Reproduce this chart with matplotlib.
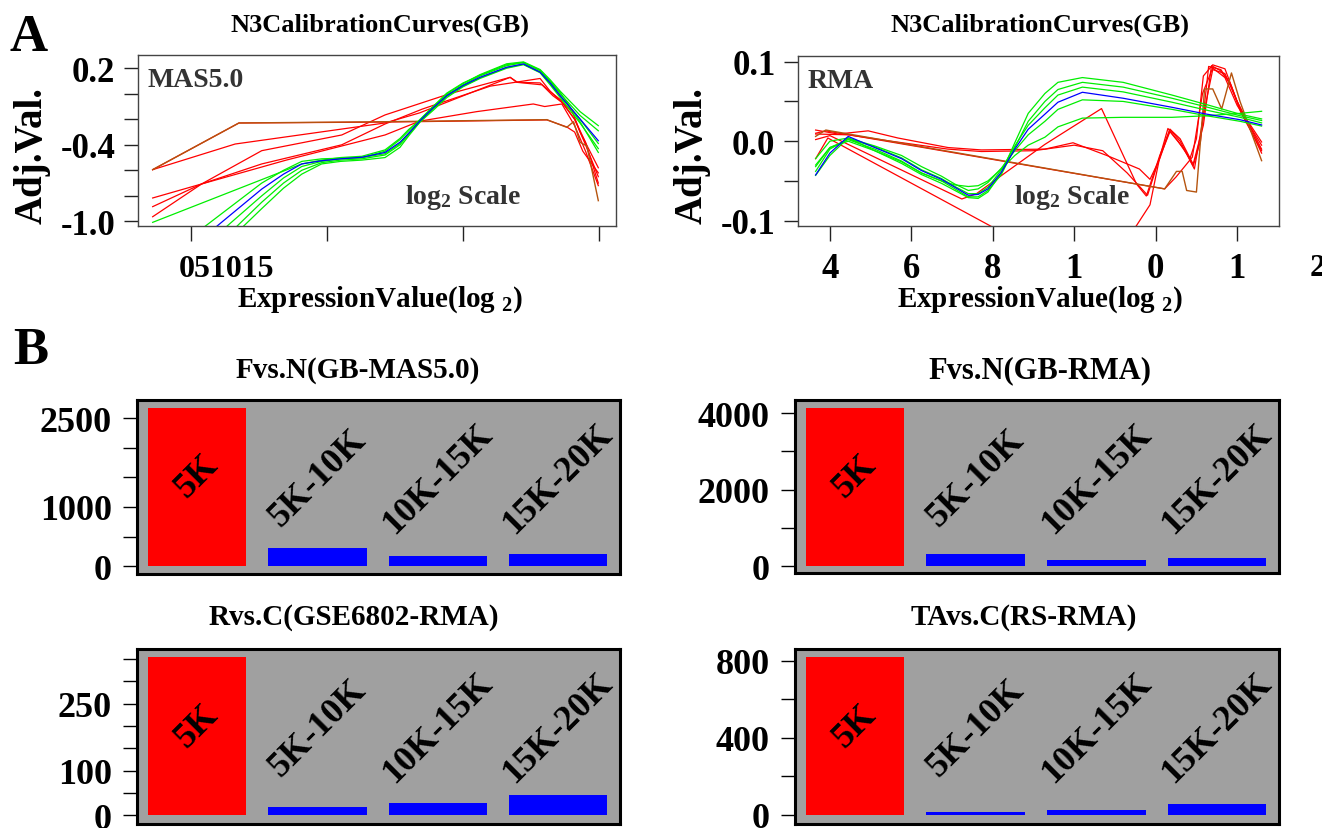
"""Calibration curves (A) and bin counts (B) figure."""
import matplotlib

matplotlib.use("Agg")
import matplotlib.pyplot as plt

W, H = 1322, 829

plt.rcParams["font.family"] = ["Liberation Serif", "DejaVu Serif"]
plt.rcParams["font.weight"] = "bold"
plt.rcParams["mathtext.fontset"] = "custom"
plt.rcParams["mathtext.rm"] = "Liberation Serif:bold"
plt.rcParams["mathtext.bf"] = "Liberation Serif:bold"
plt.rcParams["mathtext.it"] = "Liberation Serif:bold"

# ---- panel A, MAS5.0 curves -------------------------------------------
mas_grid = [2.6, 3.4, 4.07, 4.8, 5.5, 6.28, 7.13, 7.68, 8.0, 8.42, 8.9, 9.4, 10.0, 10.62, 11.6, 12.22, 12.83, 13.2, 13.57, 14.3, 14.97]
mas_blue_start = (0.94, -1.04)
mas_blue_y = [-0.747, -0.63, -0.55, -0.525, -0.51, -0.498, -0.46, -0.38, -0.31, -0.211, -0.11, -0.015, 0.065, 0.129, 0.208, 0.234, 0.169, 0.085, -0.015, -0.198, -0.368]

mas_green_start = [(0.51, -1.04), (1.31, -1.04), (1.68, -1.04), (1.92, -1.04)]
mas_green_y = [
    [-0.70, -0.60, -0.53, -0.51, -0.505, -0.50, -0.45, -0.36, -0.29, -0.20, -0.10, 0.0, 0.08, 0.15, 0.235, 0.25, 0.19, 0.11, 0.02, -0.14, -0.25],
    [-0.80, -0.66, -0.57, -0.53, -0.51, -0.50, -0.47, -0.39, -0.31, -0.215, -0.11, -0.01, 0.07, 0.14, 0.22, 0.245, 0.18, 0.095, 0.0, -0.17, -0.29],
    [-0.85, -0.70, -0.60, -0.54, -0.52, -0.51, -0.48, -0.40, -0.32, -0.22, -0.12, -0.02, 0.06, 0.125, 0.205, 0.232, 0.17, 0.08, -0.02, -0.20, -0.39],
    [-0.90, -0.74, -0.63, -0.55, -0.53, -0.52, -0.50, -0.42, -0.33, -0.22, -0.13, -0.03, 0.055, 0.12, 0.20, 0.228, 0.165, 0.07, -0.03, -0.23, -0.43],
]
# one green curve runs straight in from the left edge
mas_green_line_x = [-1.41, 4.07, 4.8, 5.5, 6.28, 7.13, 7.68, 8.0, 8.42, 8.9, 9.4, 10.0, 10.62, 11.6, 12.22, 12.83, 13.2, 13.57, 14.3, 14.97]
mas_green_line_y = [-1.008, -0.55, -0.52, -0.50, -0.49, -0.44, -0.35, -0.28, -0.205, -0.10, 0.005, 0.085, 0.145, 0.228, 0.245, 0.185, 0.10, 0.01, -0.22, -0.46]

mas_red_x = [
    [-1.41, 1.76, 7.13, 13.08, 13.81, 14.1, 14.4, 14.97],
    [-1.41, 1.62, 7.13, 8.4, 11.73, 11.97, 12.9, 13.3, 13.63, 14.0, 14.3, 14.97],
    [-1.41, 0.39, 2.6, 5.54, 7.13, 9.5, 11.73, 12.0, 12.83, 13.3, 13.6, 14.1, 14.5, 14.97],
    [-1.41, 0.39, 2.6, 5.54, 7.13, 8.5, 11.0, 12.83, 13.2, 13.63, 14.1, 14.5, 14.97],
    [-1.41, 0.39, 3.5, 7.13, 8.4, 10.5, 12.58, 13.0, 13.63, 14.1, 14.5, 14.97],
]
mas_red_y = [
    [-0.595, -0.229, -0.222, -0.205, -0.26, -0.30, -0.45, -0.62],
    [-0.595, -0.394, -0.229, -0.15, 0.129, 0.09, 0.07, -0.015, -0.067, -0.13, -0.30, -0.58],
    [-0.817, -0.707, -0.446, -0.323, -0.166, 0.0, 0.129, 0.09, 0.085, 0.0, -0.05, -0.2, -0.4, -0.65],
    [-0.885, -0.707, -0.55, -0.40, -0.237, -0.12, 0.06, 0.12, 0.02, -0.067, -0.2, -0.38, -0.70],
    [-0.964, -0.707, -0.52, -0.323, -0.215, -0.14, -0.08, -0.10, -0.08, -0.25, -0.45, -0.72],
]
mas_brown_x = [-1.41, 1.76, 7.13, 13.08, 13.81, 14.06, 14.3, 14.55, 14.97]
mas_brown_y = [-0.595, -0.229, -0.219, -0.203, -0.263, -0.219, -0.38, -0.41, -0.838]

# ---- panel A, RMA curves ----------------------------------------------
rma_x = [3.65, 4.0, 4.45, 5.1, 5.76, 6.25, 6.74, 7.07, 7.4, 7.64, 7.88, 8.21, 8.54, 8.87, 9.28, 9.6, 10.2, 11.2, 12.4, 13.25, 14.07, 14.6]
rma_blue_y = [-0.0425, -0.015, 0.006, -0.008, -0.022, -0.037, -0.048, -0.058, -0.068, -0.067, -0.060, -0.039, -0.010, 0.015, 0.034, 0.049, 0.0615, 0.054, 0.0426, 0.034, 0.027, 0.0204]
rma_green_y = [
    [-0.022, 0.0, 0.004, -0.012, -0.028, -0.042, -0.053, -0.062, -0.071, -0.072, -0.064, -0.040, -0.002, 0.035, 0.060, 0.074, 0.080, 0.074, 0.058, 0.046, 0.034, 0.028],
    [-0.032, -0.008, 0.002, -0.010, -0.025, -0.040, -0.050, -0.060, -0.070, -0.070, -0.062, -0.042, -0.008, 0.025, 0.050, 0.065, 0.074, 0.068, 0.054, 0.043, 0.032, 0.026],
    [-0.038, -0.010, 0.003, -0.007, -0.021, -0.036, -0.047, -0.057, -0.066, -0.066, -0.058, -0.036, -0.006, 0.020, 0.042, 0.058, 0.068, 0.062, 0.049, 0.039, 0.030, 0.023],
    [-0.043, -0.018, 0.004, -0.006, -0.018, -0.032, -0.044, -0.054, -0.062, -0.060, -0.052, -0.034, -0.012, 0.008, 0.025, 0.040, 0.052, 0.050, 0.040, 0.032, 0.025, 0.019],
    [-0.030, -0.008, 0.0, -0.012, -0.026, -0.040, -0.050, -0.055, -0.057, -0.056, -0.050, -0.035, -0.018, -0.005, 0.005, 0.018, 0.029, 0.030, 0.030, 0.032, 0.035, 0.0376],
]

rma_red_x = [
    [3.65, 4.2, 4.94, 5.67, 6.9, 7.72, 9.28, 9.97, 10.8, 11.6, 11.86, 12.1, 12.35, 12.6, 12.92, 13.17, 13.37, 13.58, 13.82, 14.07, 14.6],
    [3.65, 4.45, 5.5, 6.9, 7.72, 9.0, 10.0, 10.7, 11.3, 11.8, 12.1, 12.35, 12.7, 12.95, 13.2, 13.4, 13.7, 14.0, 14.6],
    [3.65, 3.95, 8.1],
    [3.65, 4.0, 7.24, 7.6, 8.3, 9.28, 10.67, 11.53, 11.77, 12.1, 12.35, 12.6, 12.92, 13.1, 13.3, 13.6, 13.85, 14.1, 14.6],
    [11.4, 11.53, 11.86, 12.1, 12.3, 12.55, 12.84, 13.0, 13.17, 13.4, 13.7, 14.0, 14.6],
    [3.65, 3.9, 12.22, 12.5, 12.9, 13.15, 13.4, 13.7, 14.0, 14.6],
]
rma_red_y = [
    [0.014, 0.009, 0.013, 0.004, -0.008, -0.011, -0.010, -0.002, -0.018, -0.035, -0.048, -0.022, 0.015, 0.003, -0.029, 0.02, 0.095, 0.089, 0.074, 0.04, -0.001],
    [0.009, 0.008, 0.0, -0.010, -0.013, -0.012, -0.005, -0.012, -0.040, -0.068, -0.020, 0.012, -0.010, -0.035, 0.040, 0.090, 0.085, 0.050, -0.010],
    [-0.022, 0.004, -0.111],
    [0.002, 0.007, -0.0727, -0.066, -0.040, -0.004, 0.041, -0.054, -0.069, -0.018, 0.015, 0.0, -0.031, 0.0, 0.094, 0.090, 0.070, 0.035, -0.012],
    [-0.115, -0.106, -0.080, -0.020, 0.016, 0.0, -0.022, 0.003, 0.082, 0.096, 0.091, 0.050, -0.015],
    [0.010, 0.013, -0.060, -0.045, -0.020, 0.060, 0.092, 0.080, 0.045, -0.005],
]
rma_brown_x = [3.65, 3.9, 12.22, 12.51, 12.65, 12.76, 13.0, 13.2, 13.4, 13.62, 13.86, 14.07, 14.6]
rma_brown_y = [0.006, 0.014, -0.060, -0.038, -0.038, -0.062, -0.064, 0.0657, 0.0657, 0.0405, 0.0858, 0.050, -0.0245]

# ---- panel B, bin counts ----------------------------------------------
bins = ["5K", "5K-10K", "10K-15K", "15K-20K"]
gb_mas5 = [2667, 310, 165, 210]
gb_rma = [4125, 313, 157, 209]
gse6802_rma = [356, 18.7, 26.3, 45]
rs_rma = [821, 17, 27.7, 55.6]

BROWN = "#b5540e"


def px_axes(fig, x0, y0, x1, y1):
    return fig.add_axes([x0 / W, 1 - y1 / H, (x1 - x0) / W, (y1 - y0) / H])


def px_text(fig, x, y, s, **kw):
    kw.setdefault("ha", "center")
    kw.setdefault("va", "center")
    fig.text(x / W, 1 - y / H, s, **kw)


def curve_panel(ax, reds_x, reds_y, brown, greens_x, greens_y, blue):
    for x, y in zip(reds_x, reds_y):
        ax.plot(x, y, color="red", lw=0.9)
    ax.plot(brown[0], brown[1], color=BROWN, lw=1.0)
    for x, y in zip(greens_x, greens_y):
        ax.plot(x, y, color="#00ee00", lw=0.9)
    ax.plot(blue[0], blue[1], color="blue", lw=0.9)
    for s in ax.spines.values():
        s.set_color("#444444")
        s.set_linewidth(1.0)
    ax.tick_params(axis="both", which="both", direction="out", length=10, width=1.0,
                   color="#222222", labelsize=25, pad=6)
    ax.tick_params(axis="x", which="both", length=11)


def bar_panel(ax, values, ticks, labels, ylim):
    pos = [0.7, 1.9, 3.1, 4.3]
    colors = ["red", "blue", "blue", "blue"]
    ax.bar(pos, values, width=0.98, color=colors, edgecolor="none")
    ax.set_facecolor("#a0a0a0")
    ax.set_xlim(0.1, 4.91)
    ax.set_ylim(*ylim)
    ax.set_yticks(ticks)
    ax.set_yticklabels(labels)
    ax.set_xticks([])
    for s in ax.spines.values():
        s.set_color("black")
        s.set_linewidth(2.2)
    ax.tick_params(axis="y", direction="out", length=10, width=1.0, labelsize=26, pad=8)
    for i, (p, name) in enumerate(zip(pos, bins)):
        yf = 0.563 if i == 0 else 0.55
        ax.text(p, yf, name, transform=ax.get_xaxis_transform(), rotation=45,
                ha="center", va="center", fontsize=26, fontweight="bold", color="black",
                rotation_mode="anchor")


fig = plt.figure(figsize=(W / 100, H / 100), dpi=100)

# A left: MAS5.0
ax1 = px_axes(fig, 137.7, 56, 616, 227.3)
mas_greens_x = [[s[0]] + mas_grid for s in mas_green_start] + [mas_green_line_x]
mas_greens_y = [[s[1]] + g for s, g in zip(mas_green_start, mas_green_y)] + [mas_green_line_y]
curve_panel(ax1, mas_red_x, mas_red_y, (mas_brown_x, mas_brown_y), mas_greens_x, mas_greens_y,
            ([mas_blue_start[0]] + mas_grid, [mas_blue_start[1]] + mas_blue_y))
ax1.set_xlim(-1.96, 15.62)
ax1.set_ylim(-1.039, 0.304)
ax1.set_xticks([0, 5, 10, 15])
ax1.set_xticklabels(["", "", "", ""])
ax1.set_yticks([-1.0, -0.4, 0.2])
ax1.set_yticklabels(["-1.0", "-0.4", "0.2"])
ax1.set_yticks([-0.8, -0.6, -0.2, 0.0], minor=True)
ax1.text(0.02, 0.93, "MAS5.0", transform=ax1.transAxes, ha="left", va="top",
         fontsize=20, color="#333333")
px_text(fig, 463, 197, r"log$_{\mathbf{2}}$ Scale", fontsize=20, color="#333333")
px_text(fig, 226, 270, "051015", fontsize=23)

# A right: RMA
ax2 = px_axes(fig, 797.7, 56.7, 1278.7, 226.7)
rma_greens_x = [rma_x] * len(rma_green_y)
curve_panel(ax2, rma_red_x, rma_red_y, (rma_brown_x, rma_brown_y), rma_greens_x, rma_green_y,
            (rma_x, rma_blue_y))
ax2.set_xlim(3.21, 15.02)
ax2.set_ylim(-0.1063, 0.1075)
ax2.set_xticks([4, 6, 8, 10, 12, 14])
ax2.set_xticklabels(["4", "6", "8", "1", "0", "1"])
ax2.set_yticks([-0.1, 0.0, 0.1])
ax2.set_yticklabels(["-0.1", "0.0", "0.1"])
ax2.set_yticks([-0.05, 0.05], minor=True)
ax2.tick_params(axis="x", pad=8)
ax2.text(0.02, 0.93, "RMA", transform=ax2.transAxes, ha="left", va="top",
         fontsize=20, color="#333333")
px_text(fig, 1072, 197, r"log$_{\mathbf{2}}$ Scale", fontsize=20, color="#333333")
px_text(fig, 1318, 268, "2", fontsize=23)

for cx, ylab_x in [(380, 32), (1040, 692)]:
    px_text(fig, cx, 25, "N3CalibrationCurves(GB)", fontsize=19)
    px_text(fig, cx, 300, r"ExpressionValue(log $_{\mathbf{2}}$)", fontsize=21)
    px_text(fig, ylab_x, 155, "Adj.Val.", fontsize=28, rotation=90)

px_text(fig, 29, 38, "A", fontsize=38)
px_text(fig, 31, 351, "B", fontsize=38)

# B panels
b1 = px_axes(fig, 136.7, 401, 619.5, 574.5)
bar_panel(b1, gb_mas5, [0, 500, 1000, 1500, 2000, 2500], ["0", "", "1000", "", "", "2500"], (-123, 2806))
b2 = px_axes(fig, 794.5, 401, 1278.5, 574.3)
bar_panel(b2, gb_rma, [0, 1000, 2000, 3000, 4000], ["0", "", "2000", "", "4000"], (-183, 4342))
b3 = px_axes(fig, 136.7, 650, 619.5, 825)
bar_panel(b3, gse6802_rma, [0, 50, 100, 150, 200, 250, 300, 350], ["0", "", "100", "", "", "250", "", ""], (-20.2, 373))
b4 = px_axes(fig, 794.5, 650, 1278.5, 825)
bar_panel(b4, rs_rma, [0, 200, 400, 600, 800], ["0", "", "400", "", "800"], (-46.8, 862))

px_text(fig, 358, 371, "Fvs.N(GB-MAS5.0)", fontsize=21)
px_text(fig, 1040, 371, "Fvs.N(GB-RMA)", fontsize=22)
px_text(fig, 354, 618, "Rvs.C(GSE6802-RMA)", fontsize=21)
px_text(fig, 1024, 618, "TAvs.C(RS-RMA)", fontsize=21)

fig.savefig("out.png", dpi=100)
plt.close(fig)
